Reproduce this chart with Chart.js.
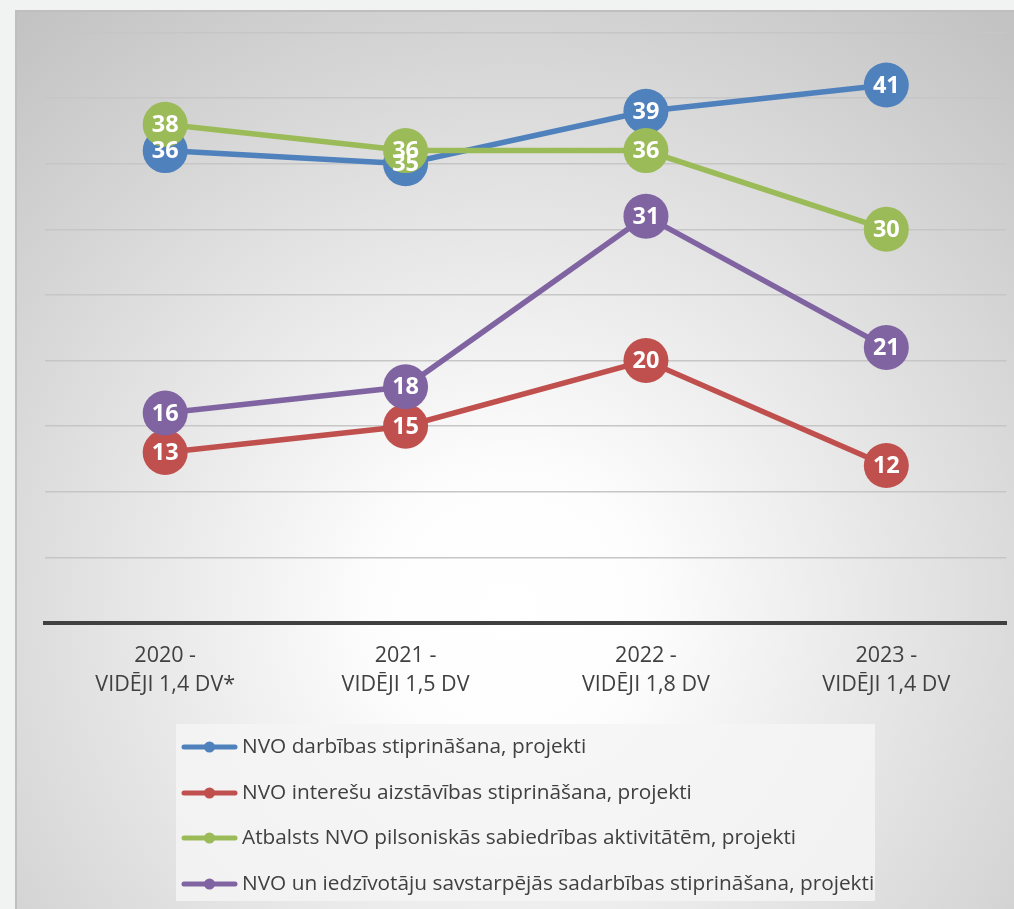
<!DOCTYPE html>
<html>
<head>
<meta charset="utf-8">
<script src="https://cdn.jsdelivr.net/npm/chart.js@4"></script>
<style>
  html, body { margin: 0; padding: 0; background: #f1f3f3; overflow: hidden; }
  #chartBox { position: absolute; left: 15px; top: 10px; width: 999px; height: 899px; overflow: hidden; }
</style>
</head>
<body>
<div id="chartBox">
  <canvas id="nvoChart" width="1014" height="899"></canvas>
</div>
<script>
const years = [
  ['2020 -', 'VIDĒJI 1,4 DV*'],
  ['2021 -', 'VIDĒJI 1,5 DV'],
  ['2022 -', 'VIDĒJI 1,8 DV'],
  ['2023 -', 'VIDĒJI 1,4 DV']
];
const seriesNames = [
  'NVO darbības stiprināšana, projekti',
  'NVO interešu aizstāvības stiprināšana, projekti',
  'Atbalsts NVO pilsoniskās sabiedrības aktivitātēm, projekti',
  'NVO un iedzīvotāju savstarpējās sadarbības stiprināšana, projekti'
];
const darbiba = [36, 35, 39, 41];
const intereses = [13, 15, 20, 12];
const atbalsts = [38, 36, 36, 30];
const sadarbiba = [16, 18, 31, 21];
const colors = ['#4f81bd', '#c0504d', '#9bbb59', '#8064a2'];

const textColor = '#404040';
const fontName = '"Open Sans", "Noto Sans", sans-serif';

// background with the soft radial shading and the frame edge
const backgroundPlugin = {
  id: 'bg',
  beforeDraw(chart) {
    const ctx = chart.ctx;
    const w = chart.width, h = chart.height;
    ctx.save();
    const g = ctx.createRadialGradient(495, 600, 0, 495, 600, 760);
    g.addColorStop(0, '#ffffff');
    g.addColorStop(0.18, '#fdfdfd');
    g.addColorStop(1, '#c3c3c3');
    ctx.fillStyle = g;
    ctx.fillRect(0, 0, w, h);
    ctx.fillStyle = '#bfbfbf';
    ctx.fillRect(0, 0, 2, h);
    ctx.fillRect(0, 0, w, 2);
    ctx.restore();
  }
};

// white numbers on top of the markers
const valueLabels = {
  id: 'valueLabels',
  afterDatasetsDraw(chart) {
    const ctx = chart.ctx;
    ctx.save();
    ctx.fillStyle = '#ffffff';
    ctx.font = 'bold 23.5px ' + fontName;
    ctx.textAlign = 'center';
    ctx.textBaseline = 'middle';
    chart.data.datasets.forEach((ds, i) => {
      const meta = chart.getDatasetMeta(i);
      meta.data.forEach((pt, j) => {
        ctx.fillText(ds.data[j], pt.x, pt.y + 1);
      });
    });
    ctx.restore();
  }
};

// legend list in its own light box under the axis
const boxLegend = {
  id: 'boxLegend',
  afterDraw(chart) {
    const ctx = chart.ctx;
    const left = 161, top = 714, width = 699, height = 177;
    const rowY = [737, 783, 828, 874];
    ctx.save();
    ctx.fillStyle = 'rgba(244, 244, 244, 0.85)';
    ctx.fillRect(left, top, width, height);
    chart.data.datasets.forEach((ds, i) => {
      const y = rowY[i];
      ctx.strokeStyle = ds.borderColor;
      ctx.lineWidth = 5;
      ctx.lineCap = 'round';
      ctx.beginPath();
      ctx.moveTo(169, y);
      ctx.lineTo(220, y);
      ctx.stroke();
      ctx.fillStyle = ds.borderColor;
      ctx.beginPath();
      ctx.arc(194.5, y, 5.5, 0, Math.PI * 2);
      ctx.fill();
      ctx.fillStyle = textColor;
      ctx.font = '20.8px ' + fontName;
      ctx.textAlign = 'left';
      ctx.textBaseline = 'middle';
      ctx.fillText(ds.label, 227, y);
    });
    ctx.restore();
  }
};

function makeSet(i, values, order) {
  return {
    label: seriesNames[i],
    data: values,
    borderColor: colors[i],
    backgroundColor: colors[i],
    pointBackgroundColor: colors[i],
    borderWidth: 5.5,
    pointRadius: 22.5,
    pointBorderWidth: 0,
    tension: 0,
    order: order
  };
}

const ctx = document.getElementById('nvoChart').getContext('2d');
const nvoChart = new Chart(ctx, {
  type: 'line',
  data: {
    labels: years,
    datasets: [
      makeSet(0, darbiba, 3),
      makeSet(1, intereses, 2),
      makeSet(2, atbalsts, 0),
      makeSet(3, sadarbiba, 1)
    ]
  },
  options: {
    responsive: false,
    animation: false,
    events: [],
    layout: {
      padding: { left: 30, right: 8, top: 20, bottom: 196 }
    },
    plugins: {
      legend: { display: false },
      tooltip: { enabled: false }
    },
    scales: {
      x: {
        offset: true,
        grid: { display: false, drawTicks: false },
        border: { display: true, color: textColor, width: 4 },
        ticks: {
          color: textColor,
          font: { family: fontName, size: 21.5, lineHeight: 1.37 },
          padding: 18,
          maxRotation: 0,
          autoSkip: false
        },
        afterFit(scale) {
          scale.height = 90;
        }
      },
      y: {
        min: 0,
        max: 45,
        ticks: { display: false, stepSize: 5 },
        grid: { color: '#c6c6c6', lineWidth: 1.5, drawTicks: false },
        border: { display: false },
        afterFit(scale) { scale.width = 0; }
      }
    }
  },
  plugins: [backgroundPlugin, valueLabels, boxLegend]
});
</script>
</body>
</html>
